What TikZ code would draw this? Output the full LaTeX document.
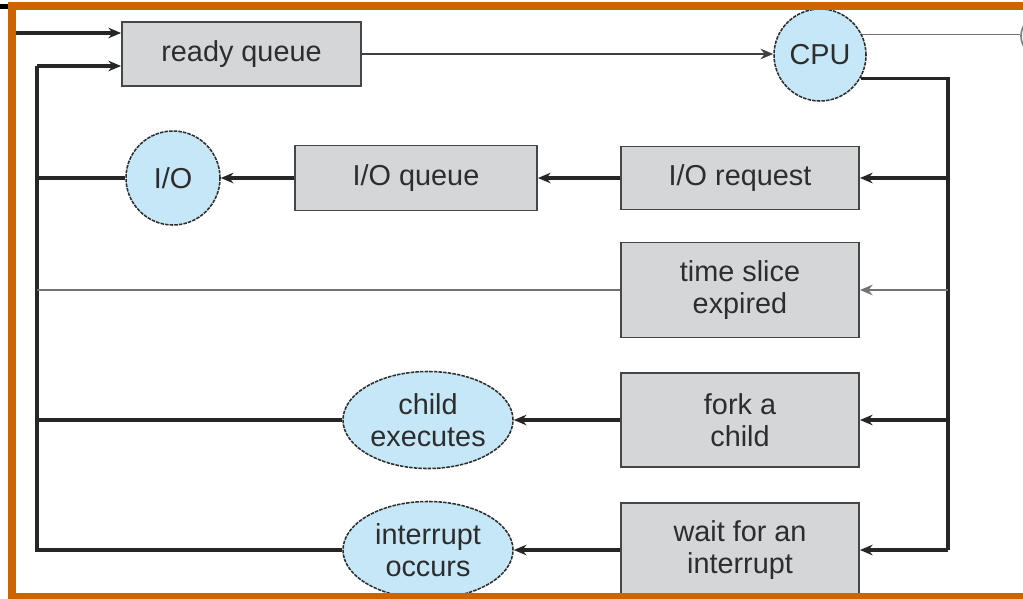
\documentclass[tikz,border=0pt]{standalone}
\usepackage{fontspec}
\setmainfont{Liberation Sans}
\usetikzlibrary{arrows.meta,shapes.geometric}
\definecolor{frameorange}{RGB}{204,100,0}
\definecolor{boxgray}{RGB}{212,214,215}
\definecolor{boxline}{RGB}{70,70,70}
\definecolor{cpublue}{RGB}{198,231,248}
\definecolor{ink}{RGB}{45,45,45}
\tikzset{
  lbl/.style={font=\fontsize{20.5}{23}\selectfont, text=ink, align=center, inner sep=0pt},
  qbox/.style={lbl, rectangle, draw=boxline, line width=1.3pt, fill=boxgray},
  res/.style={lbl, circle, draw=ink, line width=1.1pt, dash pattern=on 2.5pt off 0.8pt, fill=cpublue},
  resov/.style={lbl, ellipse, draw=ink, line width=1.1pt, dash pattern=on 2.5pt off 0.8pt, fill=cpublue},
  heavy/.style={draw=black!85, line width=2.3pt},
  light/.style={draw=black!55, line width=1.3pt},
  tip/.style={-{Stealth[length=9pt,width=7.5pt]}},
}
\begin{document}
\begin{tikzpicture}[x=0.025cm, y=-0.025cm]
  \useasboundingbox (0,0) rectangle (1023,598);
  \clip (0,0) rectangle (1023,598);
  \fill[white] (0,0) rectangle (1023,598);

  % queues and resources
  \node[qbox, minimum width=5.975cm, minimum height=1.6cm] (rq) at (241.5,54) {ready queue};
  \node[res, minimum size=2.3cm] (cpu) at (820,55) {CPU};
  \node[circle, draw=black!50, line width=1.2pt, minimum size=1.05cm] (done) at (1042,36) {};

  \node[qbox, minimum width=5.95cm, minimum height=1.575cm] (ioreq) at (740,178) {I/O request};
  \node[qbox, minimum width=6.05cm, minimum height=1.625cm] (ioq) at (416,178) {I/O queue};
  \node[res, minimum size=2.35cm] (io) at (173,178) {I/O};

  \node[qbox, minimum width=5.95cm, minimum height=2.375cm] (ts) at (740,290) {time slice\\expired};

  \node[qbox, minimum width=5.95cm, minimum height=2.35cm] (fork) at (740,420) {fork a\\child};
  \node[resov, minimum width=4.25cm, minimum height=2.425cm] (child) at (428,420) {child\\executes};

  \node[qbox, minimum width=5.95cm, minimum height=2.35cm] (wait) at (740,550) {wait for an\\interrupt};
  \node[resov, minimum width=4.25cm, minimum height=2.425cm] (intr) at (428,550) {interrupt\\occurs};

  % entry into the ready queue
  \coordinate (in) at (16,33);
  \draw[heavy, tip] (in) -- (in -| rq.west);

  % ready queue to CPU
  \draw[draw=black!75, line width=1.2pt, tip] (rq.east) -- (rq.east -| cpu.west);

  % CPU exit
  \draw[light] (cpu.26) -- (cpu.26 -| done.west);

  % CPU fan-out on the right
  \coordinate (R) at (948,550);
  \draw[heavy] (cpu.-30) -| (R);
  \draw[heavy, tip] (R) -- (wait.east);
  \draw[heavy, tip] (R |- ioreq.east) -- (ioreq.east);
  \draw[light, tip] (R |- ts.east) -- (ts.east);
  \draw[heavy, tip] (R |- fork.east) -- (fork.east);

  % flows through the events
  \draw[heavy, tip] (ioreq.west) -- (ioq.east);
  \draw[heavy, tip] (ioq.west) -- (io.east);
  \draw[heavy, tip] (fork.west) -- (child.east);
  \draw[heavy, tip] (wait.west) -- (intr.east);

  % return path on the left
  \coordinate (L) at (37,66);
  \draw[heavy] (intr.west) -| (L);
  \draw[heavy, tip] (L) -- (L -| rq.west);
  \draw[heavy] (child.west) -- (child.west -| L);
  \draw[heavy] (io.west) -- (io.west -| L);
  \draw[light] (ts.west) -- (ts.west -| L);

  % frame
  \draw[frameorange, line width=0.2cm] (12,6) rectangle (1045,597);
  \fill[black] (0,4) rectangle (8,9);
\end{tikzpicture}
\end{document}
